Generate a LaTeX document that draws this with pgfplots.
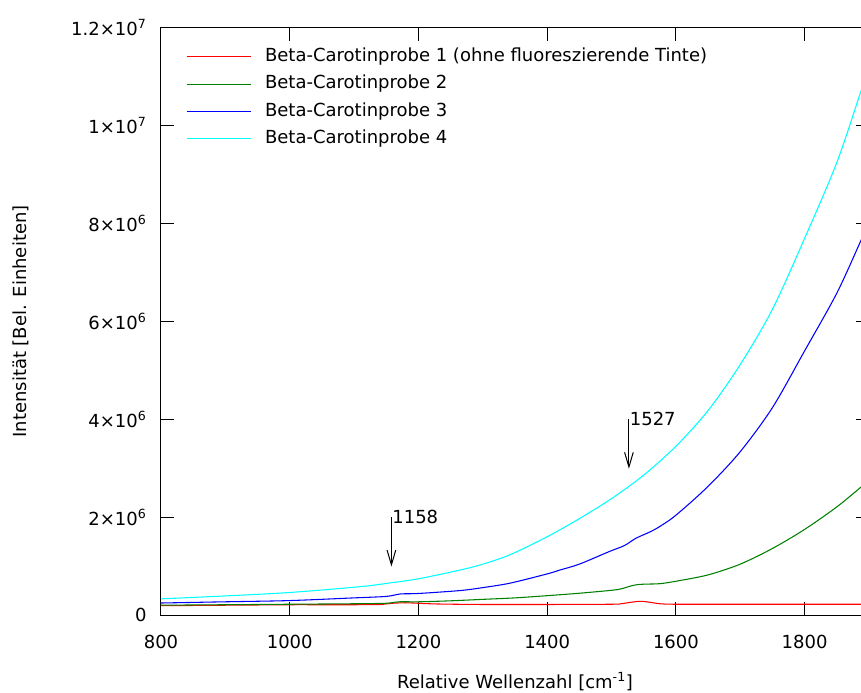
\documentclass[border=0pt]{standalone}
\usepackage{fontspec}
\setmainfont{DejaVu Sans}
\usepackage{pgfplots}
\pgfplotsset{compat=1.18}
\usetikzlibrary{arrows.meta}
\definecolor{gpred}{RGB}{255,0,0}
\definecolor{gpgreen}{RGB}{0,128,0}
\definecolor{gpblue}{RGB}{0,0,255}
\definecolor{gpcyan}{RGB}{0,255,255}

\pgfplotstableread{
x y
800 0.190e6
850 0.195e6
900 0.200e6
950 0.205e6
1000 0.210e6
1050 0.210e6
1100 0.210e6
1140 0.215e6
1160 0.240e6
1180 0.250e6
1200 0.240e6
1230 0.225e6
1300 0.215e6
1400 0.215e6
1500 0.220e6
1515 0.230e6
1530 0.260e6
1545 0.280e6
1560 0.260e6
1575 0.230e6
1600 0.220e6
1700 0.220e6
1800 0.220e6
1900 0.220e6
}\probeA

\pgfplotstableread{
x y
800 0.200e6
900 0.210e6
1000 0.220e6
1100 0.230e6
1150 0.240e6
1170 0.270e6
1200 0.270e6
1250 0.290e6
1300 0.320e6
1350 0.350e6
1400 0.395e6
1450 0.445e6
1500 0.505e6
1515 0.535e6
1535 0.610e6
1550 0.630e6
1575 0.640e6
1600 0.690e6
1650 0.820e6
1700 1.040e6
1750 1.360e6
1800 1.750e6
1850 2.210e6
1888 2.620e6
1900 2.760e6
}\probeB

\pgfplotstableread{
x y
800 0.245e6
900 0.270e6
1000 0.295e6
1100 0.350e6
1150 0.380e6
1172 0.430e6
1200 0.440e6
1265 0.500e6
1300 0.560e6
1342 0.650e6
1400 0.840e6
1420 0.920e6
1450 1.040e6
1497 1.300e6
1520 1.420e6
1538 1.570e6
1560 1.700e6
1575 1.810e6
1600 2.040e6
1650 2.630e6
1700 3.340e6
1750 4.240e6
1800 5.400e6
1850 6.580e6
1888 7.670e6
1900 8.000e6
}\probeC

\pgfplotstableread{
x y
800 0.330e6
900 0.390e6
1000 0.460e6
1110 0.580e6
1158 0.660e6
1200 0.740e6
1265 0.920e6
1300 1.040e6
1342 1.230e6
1400 1.600e6
1450 1.970e6
1500 2.380e6
1550 2.860e6
1600 3.450e6
1650 4.180e6
1700 5.120e6
1750 6.250e6
1800 7.700e6
1850 9.250e6
1888 10.730e6
1900 11.200e6
}\probeD

\begin{document}
\fontsize{13.5pt}{16pt}\selectfont
\begin{tikzpicture}
\useasboundingbox (-120.75pt,-58.5pt) rectangle (525pt,461.25pt);
\begin{axis}[
  scale only axis,
  width=531pt, height=440.25pt,
  xmin=800, xmax=1900, ymin=0, ymax=1.2e7,
  axis line style={line width=0.75pt},
  tick style={line width=0.75pt, black},
  tick align=inside,
  major tick length=9.75pt,
  xtick={800,1000,1200,1400,1600,1800},
  xticklabels={800,1000,1200,1400,1600,1800},
  ytick={0,2e6,4e6,6e6,8e6,1e7,1.2e7},
  yticklabels={0,2×10\textsuperscript{6},4×10\textsuperscript{6},6×10\textsuperscript{6},8×10\textsuperscript{6},1×10\textsuperscript{7},1.2×10\textsuperscript{7}},
  scaled y ticks=false,
  x tick label style={yshift=-10.5pt},
  y tick label style={xshift=-6.2pt},
  xlabel={Relative Wellenzahl [cm\textsuperscript{-1}]},
  ylabel={Intensität [Bel. Einheiten]},
  xlabel style={at={(axis description cs:0.5,0)}, anchor=base, yshift=-55pt},
  ylabel style={at={(axis description cs:-0.2090,0.5)}, anchor=north, inner sep=0pt},
  legend style={draw=none, fill=none, inner sep=0pt, outer sep=0pt,
    at={(axis description cs:0,1)}, anchor=north west,
    xshift=18.75pt, yshift=-14.2pt,
    nodes={inner sep=0pt, text height=11pt, text depth=4pt},
    row sep=5.5pt,
    /tikz/every odd column/.append style={column sep=10pt}},
  legend cell align=left,
  legend image code/.code={\draw[#1] (0pt,0pt) -- (48.5pt,0pt);},
  every axis plot/.append style={line width=0.8pt},
]
\addplot[gpred, smooth, tension=0.5] table {\probeA};
\addlegendentry{Beta-Carotinprobe 1 (ohne fluoreszierende Tinte)}
\addplot[gpgreen, smooth, tension=0.5] table {\probeB};
\addlegendentry{Beta-Carotinprobe 2}
\addplot[gpblue, smooth, tension=0.5] table {\probeC};
\addlegendentry{Beta-Carotinprobe 3}
\addplot[gpcyan, smooth, tension=0.5] table {\probeD};
\addlegendentry{Beta-Carotinprobe 4}
\draw[line width=0.75pt, -{Straight Barb[length=11pt,width=6.5pt]}] (axis cs:1158,2e6) -- (axis cs:1158,0.99e6);
\node[anchor=west, inner sep=0.5pt] at (axis cs:1158,2e6) {1158};
\draw[line width=0.75pt, -{Straight Barb[length=11pt,width=6.5pt]}] (axis cs:1527,4e6) -- (axis cs:1527,2.99e6);
\node[anchor=west, inner sep=0.5pt] at (axis cs:1527,4e6) {1527};
\end{axis}
\end{tikzpicture}
\end{document}
